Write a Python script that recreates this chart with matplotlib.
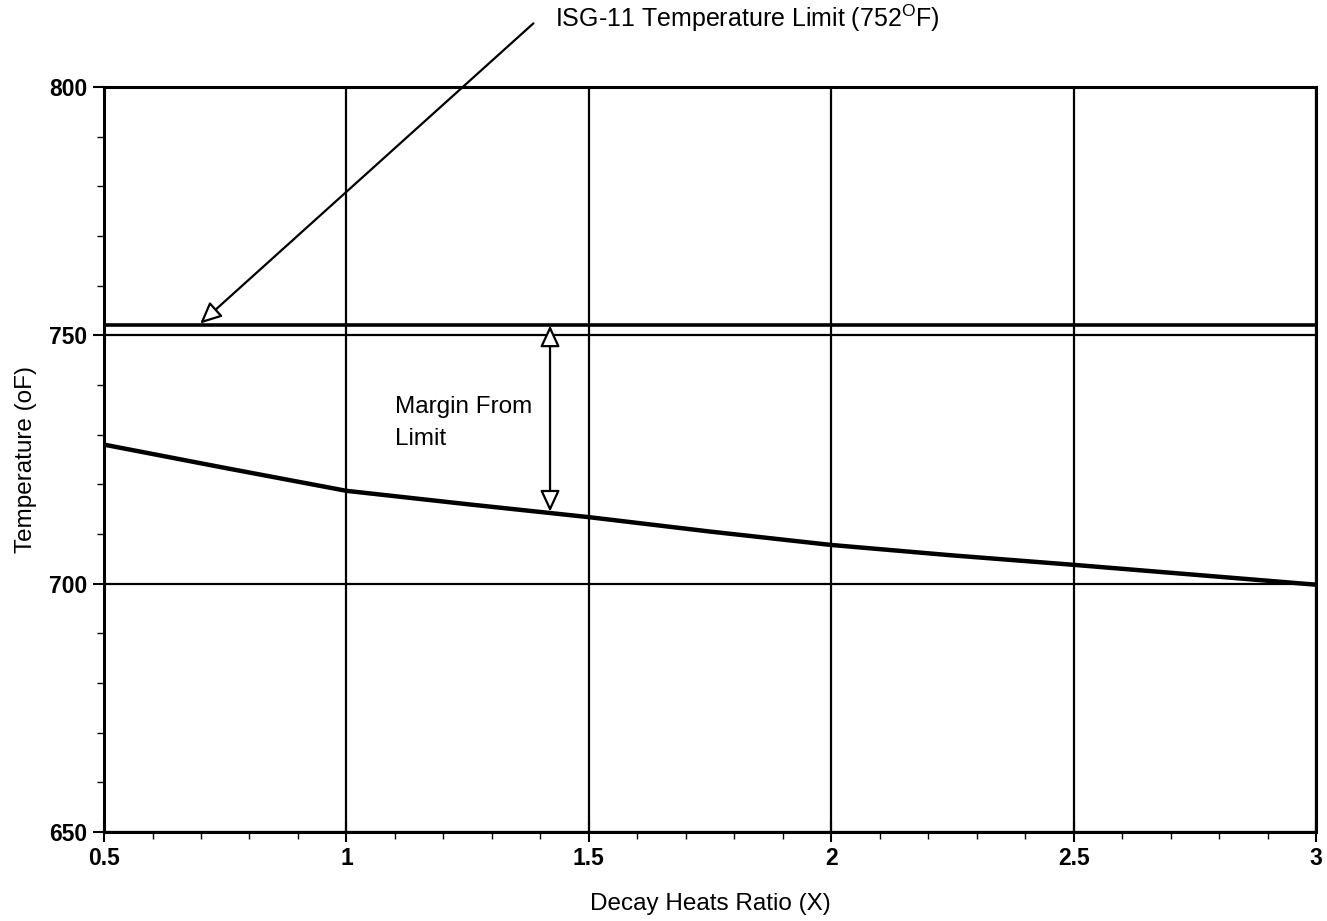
import matplotlib
matplotlib.use("Agg")
import matplotlib.pyplot as plt
from matplotlib.ticker import MultipleLocator

# values
decay_ratio = [0.5, 0.75, 1.0, 1.25, 1.5, 1.75, 2.0, 2.25, 2.5, 2.75, 3.0]
temperature = [728.0, 723.3, 718.7, 716.0, 713.4, 710.5, 707.8, 705.7, 703.8, 701.8, 699.8]
limit_temp = 752
margin_x = 1.42
margin_low = 714.5
x_ticks = [0.5, 1, 1.5, 2, 2.5, 3]
x_tick_labels = ["0.5", "1", "1.5", "2", "2.5", "3"]
y_ticks = [650, 700, 750, 800]

plt.rcParams["font.family"] = ["Liberation Sans", "DejaVu Sans"]

fig = plt.figure(figsize=(13.27, 9.21), dpi=100)
ax = fig.add_axes([0.0784, 0.0966, 0.9133, 0.8089])

ax.plot(decay_ratio, temperature, color="black", lw=3.2, solid_capstyle="butt")
ax.axhline(limit_temp, color="black", lw=2.6)

ax.set_xlim(0.5, 3)
ax.set_ylim(650, 800)
ax.set_xticks(x_ticks)
ax.set_xticklabels(x_tick_labels)
ax.set_yticks(y_ticks)
ax.xaxis.set_minor_locator(MultipleLocator(0.1))
ax.yaxis.set_minor_locator(MultipleLocator(10))
ax.grid(True, which="major", color="black", lw=1.6)
ax.set_axisbelow(True)
for s in ax.spines.values():
    s.set_linewidth(2.2)

ax.tick_params(axis="both", which="major", length=8, width=1.5, labelsize=16.5, pad=4)
ax.tick_params(axis="y", which="major", direction="out")
ax.tick_params(axis="x", which="major", direction="inout", length=14)
ax.tick_params(axis="both", which="minor", direction="out", length=5, width=1.0)
for lab in ax.get_xticklabels() + ax.get_yticklabels():
    lab.set_fontweight("bold")

ax.set_xlabel("Decay Heats Ratio (X)", fontsize=17.5, labelpad=16)
ax.set_ylabel("Temperature (oF)", fontsize=17.5, labelpad=9)

# limit callout
ax.annotate("", xy=(0.694, limit_temp), xytext=(1.39, 813.2),
            annotation_clip=False,
            arrowprops=dict(arrowstyle="-|>,head_length=1.3,head_width=0.6",
                            fc="white", ec="black", lw=1.6))
ax.text(1.43, 813.8, "ISG-11 Temperature Limit (752$^{\\mathregular{O}}$F)",
        fontsize=18, ha="left", va="center", clip_on=False)

# margin arrow
ax.annotate("", xy=(margin_x, margin_low), xytext=(margin_x, limit_temp),
            arrowprops=dict(arrowstyle="<|-|>,head_length=1.3,head_width=0.6",
                            fc="white", ec="black", lw=1.6,
                            shrinkA=0, shrinkB=0))
ax.text(1.1, 732.3, "Margin From\nLimit", fontsize=17.5, ha="left", va="center",
        linespacing=1.6)

fig.savefig("out.png", dpi=100)
